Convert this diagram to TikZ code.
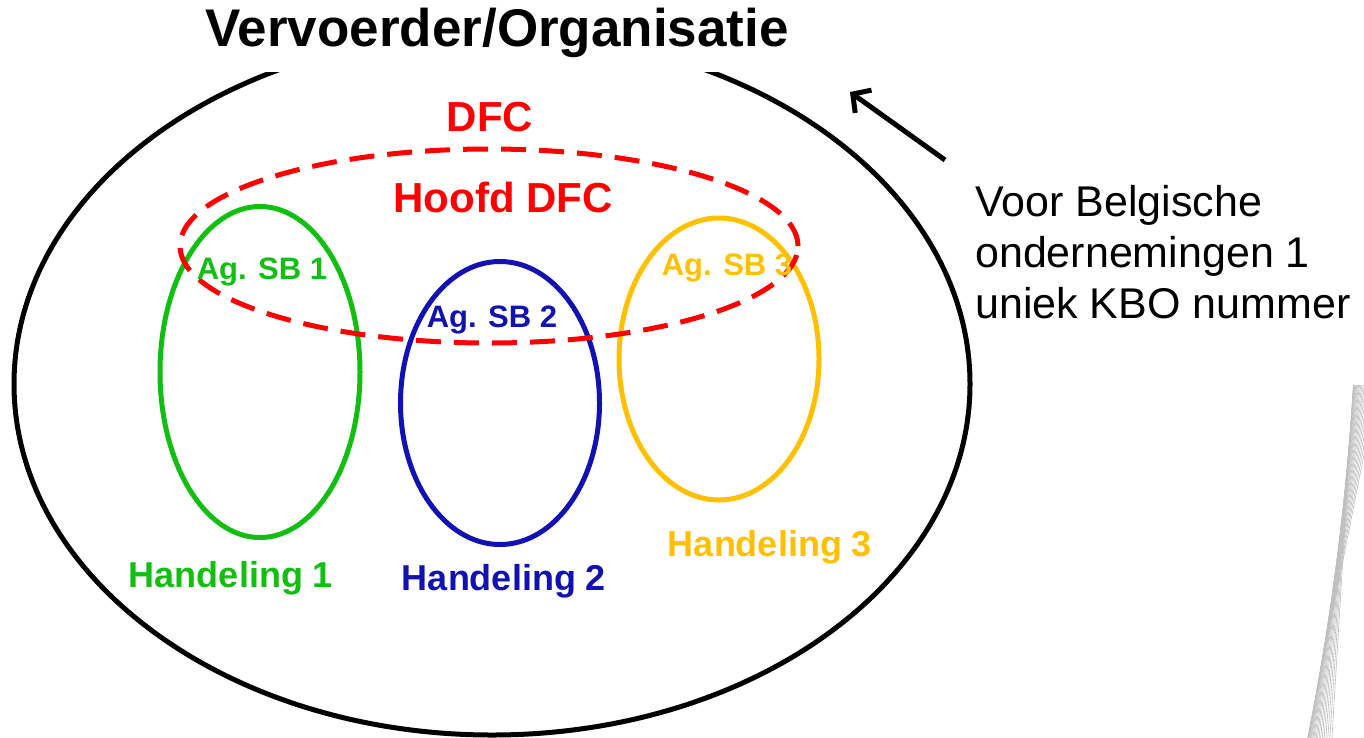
\documentclass[tikz,border=0pt]{standalone}
\usepackage{fontspec}
\setmainfont{Liberation Sans}
\usetikzlibrary{shapes.geometric,arrows.meta}
\definecolor{cgreen}{RGB}{18,190,18}
\definecolor{cblue}{RGB}{18,18,178}
\definecolor{cyellow}{RGB}{255,192,0}
\definecolor{cred}{RGB}{255,0,0}
\begin{document}
\begin{tikzpicture}[x=1pt,y=-1pt,
  oval/.style={draw, ellipse, inner sep=0pt, line width=5pt},
  lbl/.style={font=\bfseries\fontsize{31}{31}\selectfont, inner sep=0pt},
  hlbl/.style={font=\bfseries\fontsize{36}{36}\selectfont, inner sep=0pt},
  deco/.style={draw=gray!50, line width=0.6pt}
]
\useasboundingbox (0,0) rectangle (1364,737);
\fill[white] (0,0) rectangle (1364,737);
% decoration bottom right
\begin{scope}
\clip (0,0) rectangle (1364,737);
\foreach \k in {0,...,22}{
  \pgfmathsetmacro\u{\k/22}
  \pgfmathsetmacro\ye{737-350*\u}
  \pgfmathsetmacro\xe{1308+69.3*\u-24*\u*\u}
  \pgfmathsetmacro\m{(69.3-48*\u)/350}
  \draw[deco] ({\xe-\m*(745-\ye)},745) -- ({\xe+\m*(\ye-385)},385);
}
\end{scope}
% outer ellipse
\node[oval, line width=5pt, minimum width=956pt, minimum height=702pt] (org) at (492,384) {};
\fill[white] (180,0) rectangle (820,72);
\node[font=\bfseries\fontsize{53}{53}\selectfont, inner sep=0pt] (title) at (497,33) {Vervoerder/Organisatie};
% inner ellipses
\node[oval, draw=cgreen, minimum width=200pt, minimum height=331pt] (h1) at (260,372) {};
\node[oval, draw=cblue, minimum width=199pt, minimum height=283pt] (h2) at (500,403) {};
\node[oval, draw=cyellow, minimum width=200pt, minimum height=282pt] (h3) at (719,359) {};
\node[oval, draw=cred, dash pattern=on 25pt off 13pt, minimum width=618pt, minimum height=194pt] (dfc) at (489,246) {};
% labels
\node[font=\bfseries\fontsize{42}{42}\selectfont, text=cred, inner sep=0pt] (dfclbl) at (490,117) {DFC};
\node[font=\bfseries\fontsize{42}{42}\selectfont, text=cred, inner sep=0pt] (hoofd) at (503,197) {Hoofd DFC};
\node[lbl, text=cgreen] (sb1) at (262,272) {Ag. SB 1};
\node[lbl, text=cblue] (sb2) at (492,320) {Ag. SB 2};
\node[lbl, text=cyellow] (sb3) at (727,268) {Ag. SB 3};
\node[hlbl, text=cgreen] (hd1) at (231,578) {Handeling 1};
\node[hlbl, text=cblue] (hd2) at (504,581) {Handeling 2};
\node[hlbl, text=cyellow] (hd3) at (770,547) {Handeling 3};
% right note
\node[anchor=north west, align=left, inner sep=0pt, font=\fontsize{43}{51}\selectfont] (note) at (975,185) {Voor Belgische\\ondernemingen 1\\uniek KBO nummer};
\coordinate (atail) at (945,160);
\coordinate (atip) at (850,92);
\draw[line width=5pt, -{Straight Barb[length=13pt,width=28pt]}] (atail) -- (atip);
\end{tikzpicture}
\end{document}
